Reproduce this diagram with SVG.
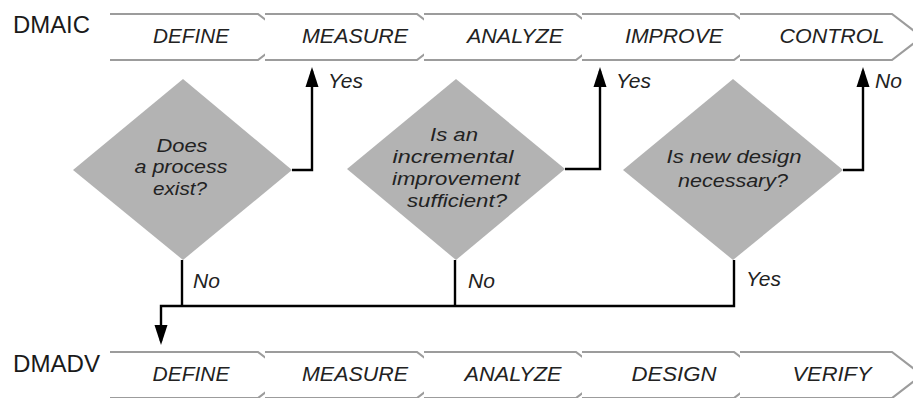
<svg xmlns="http://www.w3.org/2000/svg" width="913" height="398" viewBox="0 0 913 398">
  <style>
    .band { fill: #ffffff; stroke: #9c9c9c; stroke-width: 2.2; stroke-linejoin: miter; }
    .stage { font-family: "Liberation Sans", Arial, sans-serif; font-style: italic; font-size: 20px; fill: #222; text-anchor: middle; }
    .title { font-family: "Liberation Sans", Arial, sans-serif; font-size: 24px; fill: #1a1a1a; }
    .decision { fill: #b3b3b3; stroke: none; }
    .q { font-family: "Liberation Sans", Arial, sans-serif; font-style: italic; font-size: 19px; fill: #222; text-anchor: middle; }
    .lbl { font-family: "Liberation Sans", Arial, sans-serif; font-style: italic; font-size: 21px; fill: #222; }
    .wire { fill: none; stroke: #000; stroke-width: 2.4; }
  </style>
  <defs>
    <marker id="arrow" markerUnits="userSpaceOnUse" viewBox="0 -7 20 14" markerWidth="20" markerHeight="14" refX="16" refY="0" orient="auto">
      <path d="M0,-6.5 L20,0 L0,6.5 Z" fill="#000"/>
    </marker>
  </defs>

  <rect width="913" height="398" fill="#ffffff"/>

  <!-- DMAIC row -->
  <text class="title" x="13" y="33" textLength="77" lengthAdjust="spacingAndGlyphs">DMAIC</text>
  <g id="dmaic-define">
    <path class="band" d="M110,14 H258 L288,37 L258,60 H110"/>
    <text class="stage" x="191" y="43" textLength="76" lengthAdjust="spacingAndGlyphs">DEFINE</text>
  </g>
  <g id="dmaic-measure">
    <path class="band" d="M265,14 H417 L447,37 L417,60 H265"/>
    <text class="stage" x="355" y="43" textLength="106" lengthAdjust="spacingAndGlyphs">MEASURE</text>
  </g>
  <g id="dmaic-analyze">
    <path class="band" d="M424,14 H576 L606,37 L576,60 H424"/>
    <text class="stage" x="515" y="43" textLength="96" lengthAdjust="spacingAndGlyphs">ANALYZE</text>
  </g>
  <g id="dmaic-improve">
    <path class="band" d="M582,14 H734 L764,37 L734,60 H582"/>
    <text class="stage" x="674" y="43" textLength="98" lengthAdjust="spacingAndGlyphs">IMPROVE</text>
  </g>
  <g id="dmaic-control">
    <path class="band" d="M740,14 H892 L922,37 L892,60 H740"/>
    <text class="stage" x="832" y="43" textLength="105" lengthAdjust="spacingAndGlyphs">CONTROL</text>
  </g>

  <!-- DMADV row -->
  <text class="title" x="13" y="372" textLength="87" lengthAdjust="spacingAndGlyphs">DMADV</text>
  <g id="dmadv-define">
    <path class="band" d="M110,352 H258 L288,375 L258,398 H110"/>
    <text class="stage" x="191" y="381" textLength="77" lengthAdjust="spacingAndGlyphs">DEFINE</text>
  </g>
  <g id="dmadv-measure">
    <path class="band" d="M265,352 H417 L447,375 L417,398 H265"/>
    <text class="stage" x="355" y="381" textLength="106" lengthAdjust="spacingAndGlyphs">MEASURE</text>
  </g>
  <g id="dmadv-analyze">
    <path class="band" d="M424,352 H576 L606,375 L576,398 H424"/>
    <text class="stage" x="513" y="381" textLength="97" lengthAdjust="spacingAndGlyphs">ANALYZE</text>
  </g>
  <g id="dmadv-design">
    <path class="band" d="M582,352 H734 L764,375 L734,398 H582"/>
    <text class="stage" x="674" y="381" textLength="85" lengthAdjust="spacingAndGlyphs">DESIGN</text>
  </g>
  <g id="dmadv-verify">
    <path class="band" d="M740,352 H892 L922,375 L892,398 H740"/>
    <text class="stage" x="832" y="381" textLength="79" lengthAdjust="spacingAndGlyphs">VERIFY</text>
  </g>

  <!-- Decisions -->
  <g id="q-process-exists">
    <polygon class="decision" points="183,79 292,170 183,260 73,170"/>
    <text class="q" x="182" y="152" textLength="51" lengthAdjust="spacingAndGlyphs">Does</text>
    <text class="q" x="181" y="173" textLength="93" lengthAdjust="spacingAndGlyphs">a process</text>
    <text class="q" x="180" y="195" textLength="54" lengthAdjust="spacingAndGlyphs">exist?</text>
  </g>
  <g id="q-incremental">
    <polygon class="decision" points="456,79 565,169 456,260 347,169"/>
    <text class="q" x="454" y="141" textLength="48" lengthAdjust="spacingAndGlyphs">Is an</text>
    <text class="q" x="453" y="163" textLength="121" lengthAdjust="spacingAndGlyphs">incremental</text>
    <text class="q" x="456" y="185" textLength="128" lengthAdjust="spacingAndGlyphs">improvement</text>
    <text class="q" x="457" y="207" textLength="100" lengthAdjust="spacingAndGlyphs">sufficient?</text>
  </g>
  <g id="q-new-design">
    <polygon class="decision" points="733,79 843,170 733,260 623,170"/>
    <text class="q" x="734" y="163" textLength="135" lengthAdjust="spacingAndGlyphs">Is new design</text>
    <text class="q" x="733" y="187" textLength="110" lengthAdjust="spacingAndGlyphs">necessary?</text>
  </g>

  <!-- Connectors -->
  <g id="connectors">
    <path class="wire" d="M292,170 H312 V71" marker-end="url(#arrow)"/>
    <path class="wire" d="M565,169 H600 V71" marker-end="url(#arrow)"/>
    <path class="wire" d="M843,170 H863 V71" marker-end="url(#arrow)"/>
    <path class="wire" d="M182,260 V306"/>
    <path class="wire" d="M455,260 V306"/>
    <path class="wire" d="M734,260 V306 H161 V341" marker-end="url(#arrow)"/>
    <text class="lbl" x="328" y="88">Yes</text>
    <text class="lbl" x="616" y="88">Yes</text>
    <text class="lbl" x="875" y="88">No</text>
    <text class="lbl" x="193" y="288">No</text>
    <text class="lbl" x="468" y="288">No</text>
    <text class="lbl" x="746" y="286">Yes</text>
  </g>
</svg>
